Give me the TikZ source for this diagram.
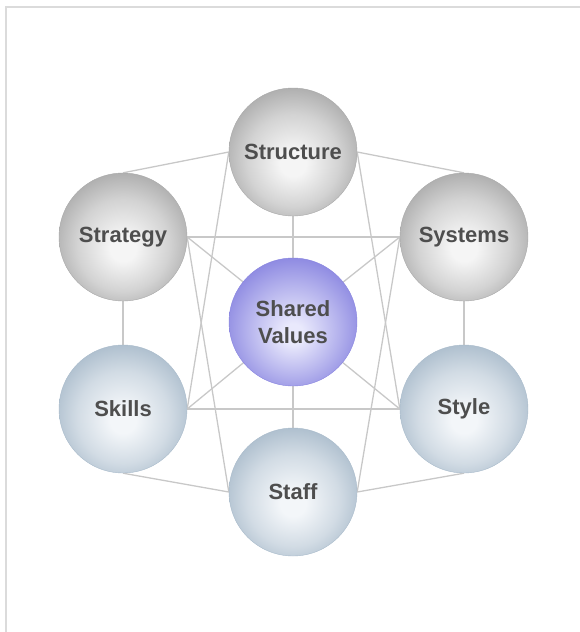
\documentclass[tikz,border=0pt]{standalone}
\usepackage{fontspec}
\setmainfont{Liberation Sans}
\usetikzlibrary{backgrounds}

\definecolor{greyin}{HTML}{F5F5F5}
\definecolor{greyout}{HTML}{A9A9A9}
\definecolor{bluein}{HTML}{F3F6F9}
\definecolor{blueout}{HTML}{A9BBCB}
\definecolor{violetin}{HTML}{E9E9FC}
\definecolor{violetout}{HTML}{8884E0}
\definecolor{wire}{HTML}{C8C8C8}
\definecolor{label}{HTML}{4E4E4E}

% soft spheres, lit a little below the middle
\pgfdeclareradialshading{greyball}{\pgfqpoint{0bp}{-5bp}}{color(0bp)=(greyin); color(5bp)=(greyin); color(18bp)=(greyout!45!greyin); color(29bp)=(greyout); color(50bp)=(greyout)}
\pgfdeclareradialshading{blueball}{\pgfqpoint{0bp}{-5bp}}{color(0bp)=(bluein); color(5bp)=(bluein); color(18bp)=(blueout!45!bluein); color(29bp)=(blueout); color(50bp)=(blueout)}
\pgfdeclareradialshading{violetball}{\pgfqpoint{0bp}{-5bp}}{color(0bp)=(violetin); color(4bp)=(violetin); color(18bp)=(violetout!55!violetin); color(29bp)=(violetout); color(50bp)=(violetout)}

\tikzset{
	sphere/.style={circle, minimum size=128pt, inner sep=0pt, text=label,
		font=\fontsize{22}{27}\selectfont\bfseries, align=center},
	hard/.style={sphere, shading=greyball, draw=greyout, line width=.4pt},
	soft/.style={sphere, shading=blueball, draw=blueout, line width=.4pt},
	core/.style={sphere, shading=violetball, draw=violetout, line width=.4pt},
	link/.style={draw=wire, line width=1.3pt},
}

\begin{document}
\begin{tikzpicture}[x=1pt, y=-1pt]
	\useasboundingbox (0,0) rectangle (580,632);
	\draw[draw=black!14, line width=1.6pt] (6,632) -- (6,7) -- (580,7);

	\node[hard] (structure) at (293,152) {Structure};
	\node[hard] (strategy) at (123,237) {Strategy};
	\node[hard] (systems) at (464,237) {Systems};
	\node[core] (values) at (293,322) {Shared\\Values};
	\node[soft] (skills) at (123,409) {Skills};
	\node[soft] (style) at (464,409) {Style};
	\node[soft] (staff) at (293,492) {Staff};

	\begin{scope}[on background layer]
		% outer ring
		\draw[link] (structure.west) -- (strategy.north);
		\draw[link] (structure.east) -- (systems.north);
		\draw[link] (strategy.south) -- (skills.north);
		\draw[link] (systems.south) -- (style.north);
		\draw[link] (skills.south) -- (staff.west);
		\draw[link] (style.south) -- (staff.east);

		% through the middle
		\draw[link] (structure.south) -- (values.north);
		\draw[link] (values.south) -- (staff.north);
		\draw[link] (strategy.east) -- (systems.west);
		\draw[link] (skills.east) -- (style.west);
		\draw[link] (strategy.east) -- (values.center);
		\draw[link] (systems.west) -- (values.center);
		\draw[link] (skills.east) -- (values.center);
		\draw[link] (style.west) -- (values.center);

		% long diagonals
		\draw[link] (strategy.east) -- (staff.west);
		\draw[link] (systems.west) -- (staff.east);
		\draw[link] (structure.west) -- (skills.east);
		\draw[link] (structure.east) -- (style.west);
	\end{scope}
\end{tikzpicture}
\end{document}
